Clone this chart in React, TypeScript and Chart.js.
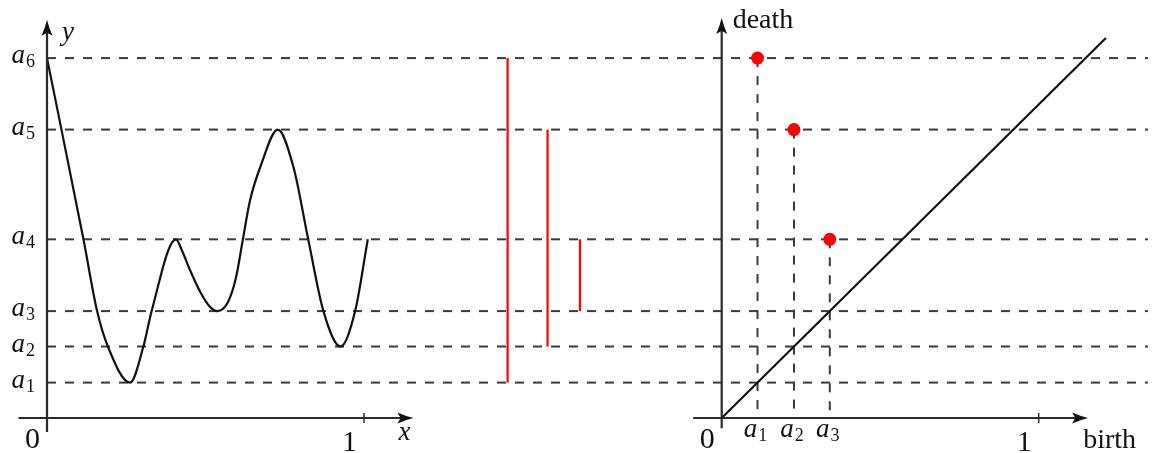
import { useEffect, useRef } from 'react';
import { Chart, registerables } from 'chart.js';

Chart.register(...registerables);

// Critical values a1..a6 of f, shared by the graph, the barcode and the diagram
const levelSubscripts = ['1', '2', '3', '4', '5', '6'];
const levels = [0.113, 0.228, 0.341, 0.57, 0.92, 1.148];

// Samples of the graph of f on [0, 1]
const curveX = [0, 0.115, 0.158, 0.192, 0.262, 0.304, 0.33, 0.407, 0.425, 0.451, 0.483, 0.514, 0.537, 0.571, 0.596, 0.618, 0.64, 0.675, 0.728, 0.777, 0.824, 0.872, 0.926, 0.972, 1.012];
const curveY = [1.148, 0.57, 0.341, 0.228, 0.113, 0.228, 0.341, 0.57, 0.536, 0.472, 0.403, 0.355, 0.341, 0.37, 0.447, 0.57, 0.692, 0.807, 0.92, 0.802, 0.57, 0.341, 0.228, 0.341, 0.57];

// Persistence pairs: (birth level index, death level index)
const birthIndex = [0, 1, 2];
const deathIndex = [5, 4, 3];

// Horizontal slot of each barcode bar (in left-panel x units)
const barSlots = [1.453, 1.579, 1.681];

// Tick labels on both horizontal axes
const tickValues = [0, 1];
const tickLabels = ['0', '1'];

// Axis titles
const leftAxisTitles = { x: 'x', y: 'y' };
const rightAxisTitles = { x: 'birth', y: 'death' };

const W = 1162;
const H = 453;
const INK = '#111';
const RED = '#ff0000';
const DASH = '#3a3a3a';
const SERIF = '"Liberation Serif", "DejaVu Serif", serif';

function arrowHead(ctx: CanvasRenderingContext2D, tx: number, ty: number, dx: number, dy: number) {
  const len = 16;
  const half = 5.5;
  const bx = tx - dx * len;
  const by = ty - dy * len;
  const nx = -dy;
  const ny = dx;
  ctx.beginPath();
  ctx.moveTo(tx, ty);
  ctx.quadraticCurveTo(tx - dx * len * 0.5 + nx * half * 0.35, ty - dy * len * 0.5 + ny * half * 0.35, bx + nx * half, by + ny * half);
  ctx.lineTo(tx - dx * len * 0.8, ty - dy * len * 0.8);
  ctx.lineTo(bx - nx * half, by - ny * half);
  ctx.quadraticCurveTo(tx - dx * len * 0.5 - nx * half * 0.35, ty - dy * len * 0.5 - ny * half * 0.35, tx, ty);
  ctx.closePath();
  ctx.fill();
}

function indexedLabel(ctx: CanvasRenderingContext2D, sub: string, x: number, y: number, align: 'right' | 'center') {
  ctx.font = `italic 27px ${SERIF}`;
  const wa = ctx.measureText('a').width;
  ctx.font = `18px ${SERIF}`;
  const ws = ctx.measureText(sub).width;
  const total = wa + 1 + ws;
  const left = align === 'right' ? x - total : x - total / 2;
  ctx.textAlign = 'left';
  ctx.textBaseline = 'alphabetic';
  ctx.font = `italic 27px ${SERIF}`;
  ctx.fillText('a', left, y);
  ctx.font = `18px ${SERIF}`;
  ctx.fillText(sub, left + wa + 1, y + 4);
}

const decorations = {
  id: 'decorations',
  afterDatasetsDraw(chart: any) {
    const ctx: CanvasRenderingContext2D = chart.ctx;
    const ys = chart.scales.y;
    const panels = [
      { xs: chart.scales.xL, titles: leftAxisTitles, italic: true },
      { xs: chart.scales.xR, titles: rightAxisTitles, italic: false },
    ];
    ctx.save();
    ctx.strokeStyle = '#2a2a2a';
    ctx.fillStyle = INK;
    ctx.lineWidth = 2.2;
    ctx.lineCap = 'butt';

    panels.forEach(({ xs, titles, italic }, p) => {
      const ox = xs.getPixelForValue(0);
      const oy = ys.getPixelForValue(0);
      const xStart = xs.getPixelForValue(-0.09);
      const xTip = xs.getPixelForValue(1.156);
      const yBottom = ys.getPixelForValue(p === 0 ? -0.045 : -0.033);
      const yTip = ys.getPixelForValue(p === 0 ? 1.27 : 1.276);

      // horizontal axis
      ctx.beginPath();
      ctx.moveTo(xStart, oy);
      ctx.lineTo(xTip - 12, oy);
      ctx.stroke();
      arrowHead(ctx, xTip, oy, 1, 0);
      // vertical axis
      ctx.beginPath();
      ctx.moveTo(ox, yBottom);
      ctx.lineTo(ox, yTip + 12);
      ctx.stroke();
      arrowHead(ctx, ox, yTip, 0, -1);

      // tick mark at 1
      const t1 = xs.getPixelForValue(1);
      ctx.lineWidth = 1.5;
      ctx.beginPath();
      ctx.moveTo(t1, oy - 5);
      ctx.lineTo(t1, oy + 5);
      ctx.stroke();
      ctx.lineWidth = 2.2;

      // tick labels
      ctx.font = `30px ${SERIF}`;
      ctx.textAlign = 'center';
      ctx.textBaseline = 'alphabetic';
      tickValues.forEach((v, i) => {
        const px = xs.getPixelForValue(v);
        const dy = v === 0 ? 30 : 33;
        ctx.fillText(tickLabels[i], px - 14.5, oy + dy);
      });

      // axis titles
      ctx.textAlign = 'left';
      if (italic) {
        ctx.font = `italic 27px ${SERIF}`;
        ctx.fillText(titles.x, xTip - 15, oy + 22);
        ctx.fillText(titles.y, ox + 15, yTip + 20);
      } else {
        ctx.font = `28px ${SERIF}`;
        ctx.fillText(titles.x, xTip - 5, oy + 30);
        ctx.fillText(titles.y, ox + 11, yTip + 10);
      }
    });

    // level labels a_i on the left
    const axL = chart.scales.xL.getPixelForValue(0);
    levels.forEach((v, i) => {
      indexedLabel(ctx, levelSubscripts[i], axL - 12, ys.getPixelForValue(v) + 5, 'right');
    });

    // birth labels under the diagram
    const xR = chart.scales.xR;
    const oy = ys.getPixelForValue(0);
    birthIndex.forEach((b) => {
      indexedLabel(ctx, levelSubscripts[b], xR.getPixelForValue(levels[b]) - 2, oy + 19, 'center');
    });
    ctx.restore();
  },
};

export default function App() {
  const canvasRef = useRef<HTMLCanvasElement | null>(null);

  useEffect(() => {
    const canvas = canvasRef.current;
    if (!canvas) return;

    const guideEnd = 3.473;
    const diagonalEnd = 1.212;
    const datasets: any[] = [];

    // points of the persistence diagram
    datasets.push({
      type: 'scatter',
      xAxisID: 'xR',
      yAxisID: 'y',
      data: birthIndex.map((b, i) => ({ x: levels[b], y: levels[deathIndex[i]] })),
      pointRadius: 6.5,
      pointBackgroundColor: RED,
      pointBorderWidth: 0,
      showLine: false,
    });

    // barcode
    birthIndex.forEach((b, i) => {
      datasets.push({
        type: 'line',
        xAxisID: 'xL',
        yAxisID: 'y',
        data: [
          { x: barSlots[i], y: levels[b] },
          { x: barSlots[i], y: levels[deathIndex[i]] },
        ],
        borderColor: RED,
        borderWidth: 2.2,
        pointRadius: 0,
      });
    });

    // graph of f
    datasets.push({
      type: 'line',
      xAxisID: 'xL',
      yAxisID: 'y',
      data: curveX.map((x, i) => ({ x, y: curveY[i] })),
      borderColor: INK,
      borderWidth: 2.2,
      pointRadius: 0,
      cubicInterpolationMode: 'monotone',
    });

    // diagonal of the diagram
    datasets.push({
      type: 'line',
      xAxisID: 'xR',
      yAxisID: 'y',
      data: [
        { x: 0, y: 0 },
        { x: diagonalEnd, y: diagonalEnd },
      ],
      borderColor: INK,
      borderWidth: 2.2,
      pointRadius: 0,
    });

    // dashed drops from each point to the birth axis
    birthIndex.forEach((b, i) => {
      datasets.push({
        type: 'line',
        xAxisID: 'xR',
        yAxisID: 'y',
        data: [
          { x: levels[b], y: levels[deathIndex[i]] },
          { x: levels[b], y: 0 },
        ],
        borderColor: DASH,
        borderWidth: 2,
        borderDash: [9, 9],
        pointRadius: 0,
      });
    });

    // dashed level lines across all panels
    levels.forEach((v) => {
      datasets.push({
        type: 'line',
        xAxisID: 'xL',
        yAxisID: 'y',
        data: [
          { x: 0, y: v },
          { x: guideEnd, y: v },
        ],
        borderColor: DASH,
        borderWidth: 2,
        borderDash: [9, 9],
        pointRadius: 0,
      });
    });

    const chart = new Chart(canvas, {
      type: 'line',
      data: { datasets },
      options: {
        animation: false,
        responsive: false,
        events: [],
        layout: { padding: 0, autoPadding: false },
        plugins: {
          legend: { display: false },
          tooltip: { enabled: false },
        },
        scales: {
          xL: { type: 'linear', position: 'bottom', display: false, min: -0.1483, max: 3.5174 },
          xR: { type: 'linear', position: 'bottom', display: false, min: -2.2767, max: 1.389 },
          y: { type: 'linear', position: 'left', display: false, min: -0.1116, max: 1.3333 },
        },
      },
      plugins: [decorations],
    } as any);

    return () => chart.destroy();
  }, []);

  return (
    <div style={{ position: 'fixed', left: 0, top: 0, width: W, height: H, background: '#fff' }}>
      <canvas ref={canvasRef} width={W} height={H} style={{ display: 'block' }} />
    </div>
  );
}
